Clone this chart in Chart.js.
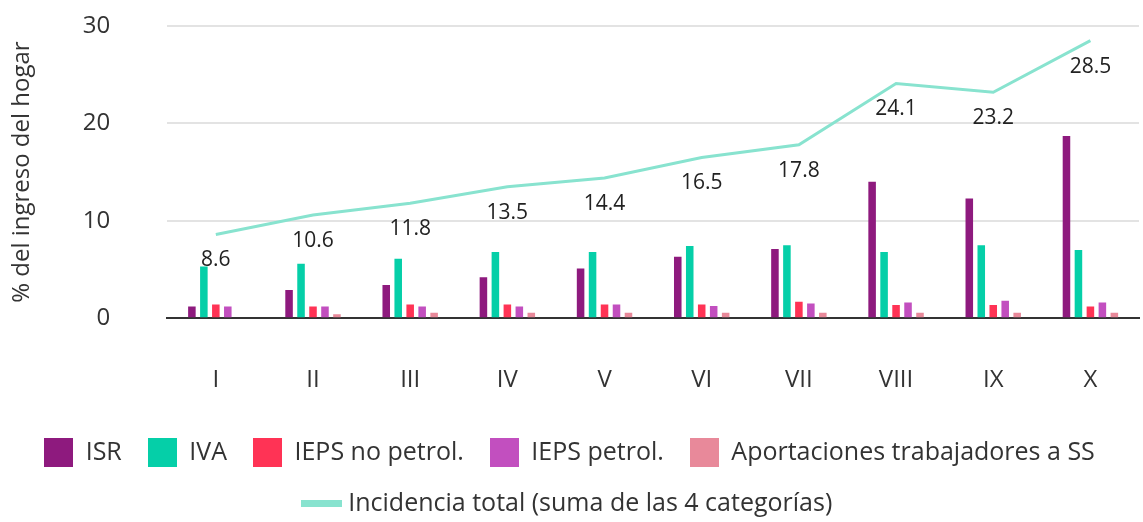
<!DOCTYPE html>
<html>
<head>
<meta charset="utf-8">
<script src="https://cdn.jsdelivr.net/npm/chart.js@4"></script>
<style>
  html, body { margin: 0; padding: 0; background: #fff; }
</style>
</head>
<body>
<canvas id="incidencia" width="1143" height="522"></canvas>
<script>
const deciles = ['I', 'II', 'III', 'IV', 'V', 'VI', 'VII', 'VIII', 'IX', 'X'];
const isr = [1.2, 2.9, 3.4, 4.2, 5.1, 6.3, 7.1, 14.0, 12.3, 18.7];
const iva = [5.3, 5.6, 6.1, 6.8, 6.8, 7.4, 7.5, 6.8, 7.5, 7.0];
const iepsNoPetrol = [1.4, 1.2, 1.4, 1.4, 1.4, 1.4, 1.7, 1.35, 1.35, 1.2];
const iepsPetrol = [1.2, 1.2, 1.2, 1.2, 1.4, 1.25, 1.5, 1.6, 1.8, 1.6];
const aportaciones = [0, 0.4, 0.55, 0.55, 0.55, 0.55, 0.55, 0.55, 0.55, 0.55];
const incidenciaTotal = [8.6, 10.6, 11.8, 13.5, 14.4, 16.5, 17.8, 24.1, 23.2, 28.5];
const yTicks = [0, 10, 20, 30];

const FONT = '"Open Sans"';

// muestra del legend: cuadro para barras, trazo para la linea
function swatch(color, w, h) {
    const c = document.createElement('canvas');
    c.width = w;
    c.height = h;
    const g = c.getContext('2d');
    g.fillStyle = color;
    g.fillRect(0, 0, w, h);
    return c;
}

// etiquetas de la incidencia total, debajo de la linea
const totalLabels = {
    id: 'totalLabels',
    afterDatasetsDraw(chart) {
        const ctx = chart.ctx;
        const meta = chart.getDatasetMeta(5);
        ctx.save();
        ctx.font = '500 21px ' + FONT;
        ctx.fillStyle = '#222';
        ctx.textAlign = 'center';
        ctx.textBaseline = 'middle';
        meta.data.forEach((pt, i) => {
            ctx.fillText(incidenciaTotal[i].toFixed(1), pt.x, pt.y + 26);
        });
        ctx.restore();
    }
};

function bar(label, data, color) {
    return {
        type: 'bar',
        label: label,
        data: data,
        backgroundColor: color,
        borderWidth: 0,
        categoryPercentage: 0.616,
        barPercentage: 0.63,
        order: 2
    };
}

const ctx = document.getElementById('incidencia');
new Chart(ctx, {
    data: {
        labels: deciles,
        datasets: [
            bar('ISR', isr, '#8e1a7e'),
            bar('IVA', iva, '#05cfa8'),
            bar('IEPS no petrol.', iepsNoPetrol, '#ff3355'),
            bar('IEPS petrol.', iepsPetrol, '#c24fbf'),
            bar('Aportaciones trabajadores a SS', aportaciones, '#e8899a'),
            {
                type: 'line',
                label: 'Incidencia total (suma de las 4 categorías)',
                data: incidenciaTotal,
                borderColor: '#88e3cf',
                backgroundColor: '#88e3cf',
                borderWidth: 3,
                pointRadius: 0,
                tension: 0,
                order: 1
            }
        ]
    },
    options: {
        responsive: false,
        animation: false,
        layout: { padding: { top: 26, right: 4, left: 0, bottom: -4 } },
        plugins: {
            tooltip: { enabled: false },
            legend: {
                position: 'bottom',
                labels: {
                    usePointStyle: true,
                    pointStyleWidth: 29,
                    padding: 26,
                    color: '#333',
                    font: { family: FONT, size: 25 },
                    generateLabels(chart) {
                        return chart.data.datasets.map((ds, i) => ({
                            text: ds.label,
                            fillStyle: ds.backgroundColor,
                            strokeStyle: ds.backgroundColor,
                            lineWidth: 0,
                            pointStyle: ds.type === 'line'
                                ? swatch(ds.borderColor, 41, 7)
                                : swatch(ds.backgroundColor, 29, 29),
                            fontColor: '#333',
                            datasetIndex: i
                        }));
                    }
                }
            }
        },
        scales: {
            x: {
                grid: { display: true, drawOnChartArea: false, drawTicks: true, tickLength: 29, tickColor: 'rgba(0,0,0,0)' },
                border: { display: true, color: '#333', width: 2 },
                ticks: { color: '#333', padding: 19, font: { family: FONT, size: 24 } }
            },
            y: {
                min: 0,
                max: 30,
                afterBuildTicks(axis) { axis.ticks = yTicks.map(v => ({ value: v })); },
                grid: { color: '#e3e3e3', lineWidth: 2, drawTicks: true, tickLength: 51, tickColor: 'rgba(0,0,0,0)' },
                border: { display: false },
                ticks: { color: '#333', padding: 6, font: { family: FONT, size: 24 } },
                title: {
                    display: true,
                    text: '% del ingreso del hogar',
                    color: '#333',
                    padding: { top: 8, bottom: 40 },
                    font: { family: FONT, size: 24 }
                }
            }
        }
    },
    plugins: [totalLabels]
});
</script>
</body>
</html>
